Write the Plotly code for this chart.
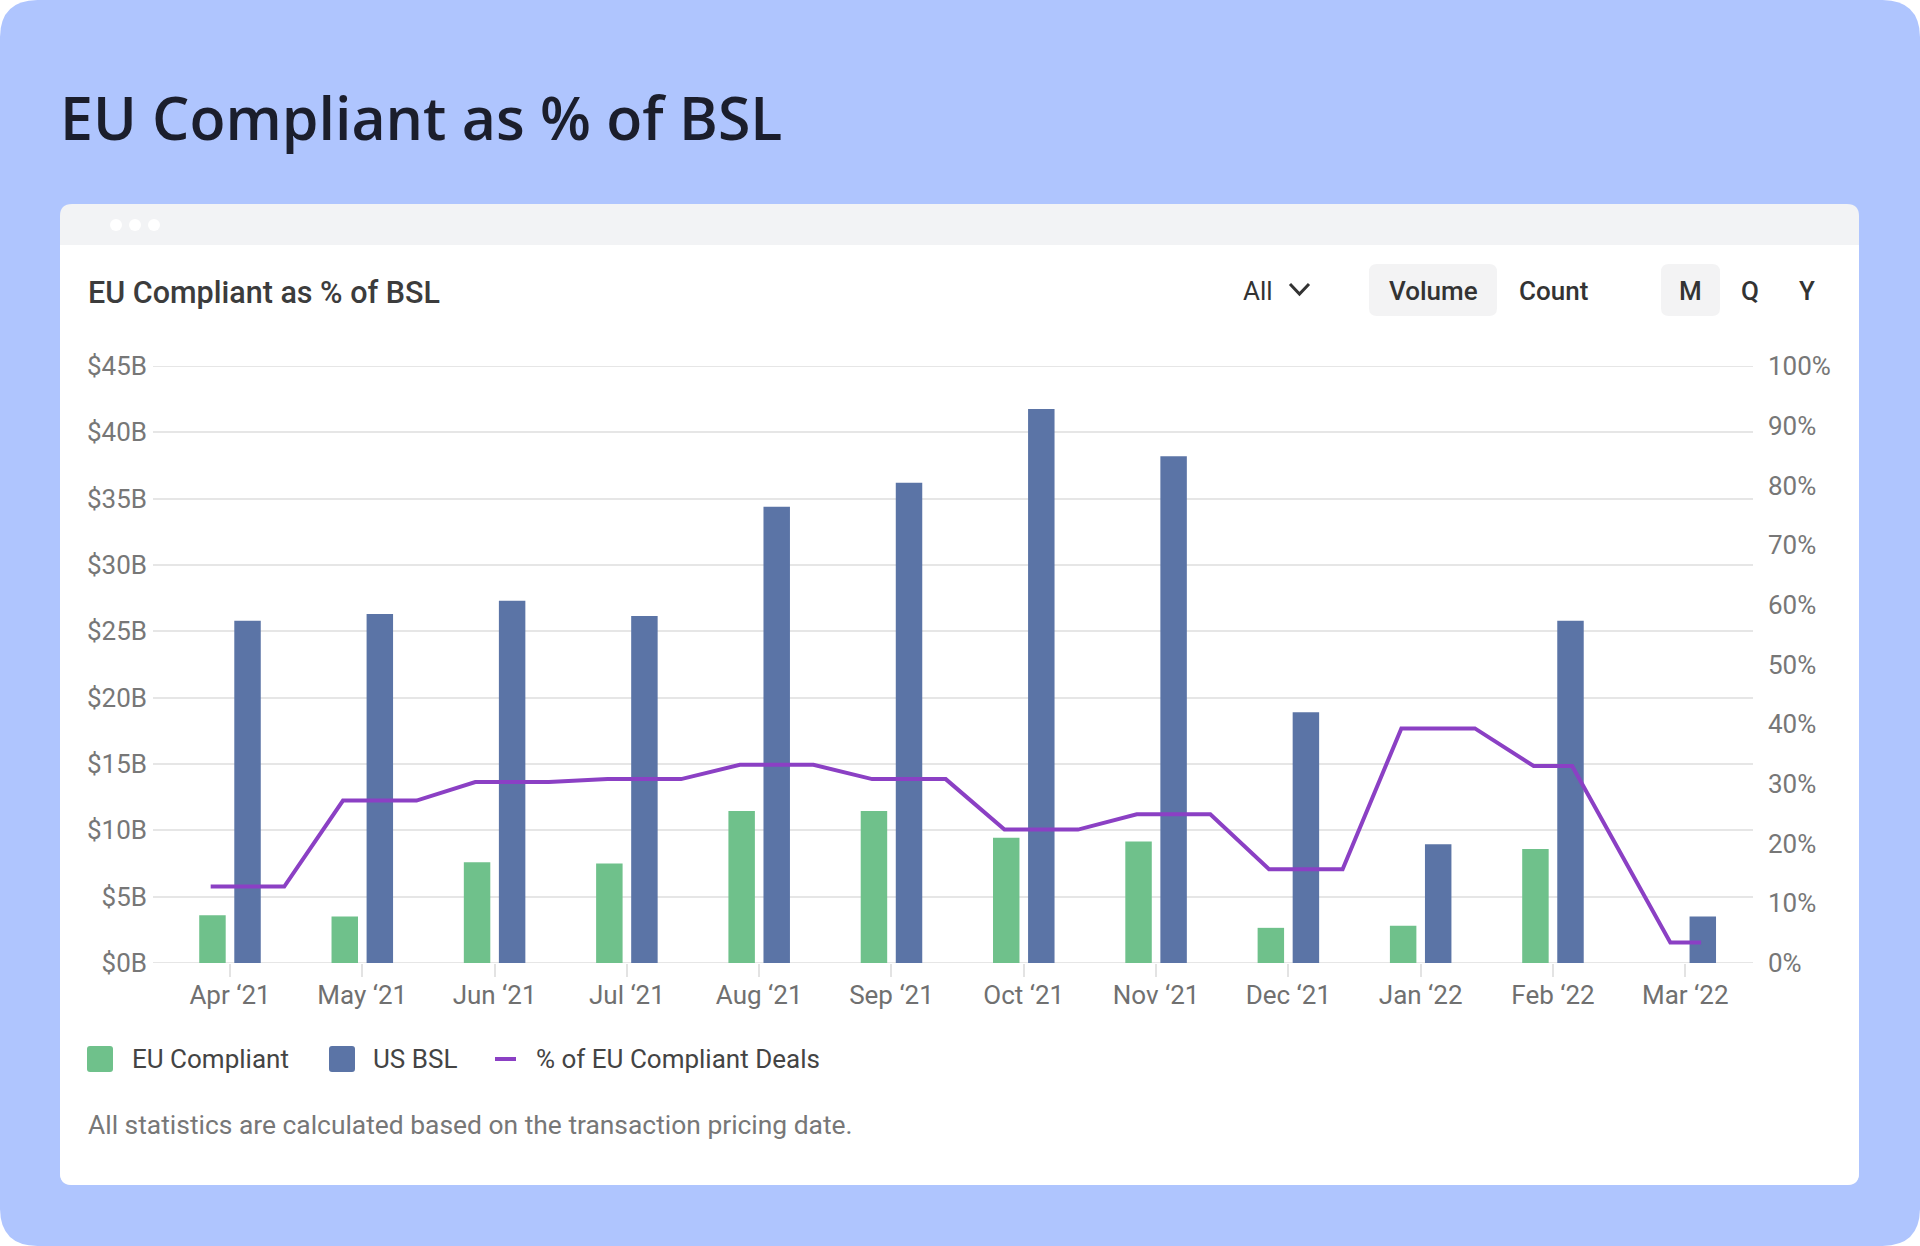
import plotly.graph_objects as go

# data
months = ["Apr \u201821", "May \u201821", "Jun \u201821", "Jul \u201821", "Aug \u201821", "Sep \u201821",
          "Oct \u201821", "Nov \u201821", "Dec \u201821", "Jan \u201822", "Feb \u201822", "Mar \u201822"]
eu_compliant = [3.6, 3.5, 7.6, 7.5, 11.45, 11.45, 9.45, 9.15, 2.65, 2.8, 8.6, None]   # $B
us_bsl = [25.8, 26.3, 27.3, 26.15, 34.4, 36.2, 41.75, 38.2, 18.9, 8.95, 25.8, 3.5]     # $B
pct_eu = [12.8, 27.2, 30.3, 30.8, 33.2, 30.8, 22.35, 24.9, 15.7, 39.3, 33.0, 3.45]     # %

y_ticks = list(range(0, 50, 5))
y_labels = [f"${v}B" for v in y_ticks]
pct_ticks = list(range(0, 110, 10))
pct_labels = [f"{v}%" for v in pct_ticks]

# colours
BG_BLUE = "#AFC5FE"
GREEN = "#6FC18B"
NAVY = "#5B74A6"
PURPLE = "#8B40C4"
GRID = "#E6E6E6"

# page geometry (pixels)
W, H = 1920, 1246
L, R, T, B = 153, 1753, 366, 963
pw, ph = R - L, B - T


def fx(x):
    return (x - L) / pw


def fy(y):
    return (B - y) / ph


def rrect(x0, y0, x1, y1, rt, rb=None):
    # rounded rectangle path in paper coords, built from pixel corners
    rb = rt if rb is None else rb
    pts = [
        ("M", x0 + rt, y0), ("L", x1 - rt, y0), ("Q", x1, y0, x1, y0 + rt),
        ("L", x1, y1 - rb), ("Q", x1, y1, x1 - rb, y1), ("L", x0 + rb, y1),
        ("Q", x0, y1, x0, y1 - rb), ("L", x0, y0 + rt), ("Q", x0, y0, x0 + rt, y0),
    ]
    out = ""
    for p in pts:
        cmd, vals = p[0], p[1:]
        coords = []
        for i in range(0, len(vals), 2):
            coords.append(f"{fx(vals[i]):.5f},{fy(vals[i + 1]):.5f}")
        out += cmd + " ".join(coords) + " "
    return out + "Z"


def box(path, color, layer="below"):
    return dict(type="path", path=path, xref="paper", yref="paper",
                fillcolor=color, line=dict(width=0), layer=layer)


# flat segment of the % line around each month (category units)
seg = [(-0.146, 0.41)] * 10 + [(-0.146, 0.145), (-0.113, 0.12)]
line_x, line_y = [], []
for i, v in enumerate(pct_eu):
    line_x += [i + seg[i][0], i + seg[i][1]]
    line_y += [v, v]

fig = go.Figure()

fig.add_trace(go.Bar(x=months, y=eu_compliant, name="EU Compliant",
                     marker=dict(color=GREEN, line=dict(width=0))))
fig.add_trace(go.Bar(x=months, y=us_bsl, name="US BSL",
                     marker=dict(color=NAVY, line=dict(width=0))))
fig.add_trace(go.Scatter(x=line_x, y=line_y, name="% of EU Compliant Deals",
                         mode="lines", line=dict(color=PURPLE, width=4),
                         xaxis="x2", yaxis="y2"))

xr = [-0.582, 11.512]

shapes = [
    # blue page background and white card
    box(rrect(0, 0, W, H, 38), BG_BLUE),
    box(rrect(60, 204, 1859, 1185, 12), "#F2F3F5"),
    box(rrect(60, 245, 1859, 1185, 0, 12), "white"),
    # toggle backgrounds
    box(rrect(1369, 264, 1497, 316, 8), "#F3F3F4"),
    box(rrect(1661, 264, 1720, 316, 8), "#F3F3F4"),
    # chevron
    dict(type="path", xref="paper", yref="paper",
         path=f"M{fx(1290):.5f},{fy(284):.5f} L{fx(1299.5):.5f},{fy(294):.5f} L{fx(1309):.5f},{fy(284):.5f}",
         line=dict(color="#333333", width=3)),
]
# plotly skips gridlines on the range edges, so draw those two by hand
for v in (y_ticks[0], y_ticks[-1]):
    shapes.append(dict(type="line", xref="paper", yref="y", x0=0, x1=1, y0=v, y1=v,
                       line=dict(color=GRID, width=2), layer="below"))
for cx in [116, 135, 154]:
    shapes.append(dict(type="circle", xref="paper", yref="paper",
                       x0=fx(cx - 6), x1=fx(cx + 6), y0=fy(231), y1=fy(219),
                       fillcolor="white", line=dict(width=0), layer="below"))

# legend drawn by hand
shapes.append(box(rrect(87, 1046, 113, 1072, 3), GREEN, "above"))
shapes.append(box(rrect(329, 1046, 355, 1072, 3), NAVY, "above"))
shapes.append(dict(type="line", xref="paper", yref="paper",
                   x0=fx(495), x1=fx(516), y0=fy(1059), y1=fy(1059),
                   line=dict(color=PURPLE, width=4)))

roboto = "Roboto, Arial, sans-serif"


def label(text, x, y, size, color, xanchor="left", weight=400, family=roboto):
    return dict(text=text, x=fx(x), y=fy(y), xref="paper", yref="paper", showarrow=False,
                xanchor=xanchor, yanchor="middle",
                font=dict(family=family, size=size, color=color, weight=weight))


annotations = [
    label("EU Compliant as % of BSL", 58, 117, 59, "#1B1E2C", weight=600, family="Open Sans, sans-serif"),
    label("EU Compliant as % of BSL", 86, 292, 30.5, "#3C3C3C", weight=500),
    label("All", 1241, 291, 26, "#333333"),
    label("Volume", 1433, 291, 26, "#333333", xanchor="center", weight=500),
    label("Count", 1553, 291, 26, "#333333", xanchor="center", weight=500),
    label("M", 1690, 291, 26, "#333333", xanchor="center", weight=500),
    label("Q", 1750, 291, 26, "#333333", xanchor="center", weight=500),
    label("Y", 1807, 291, 26, "#333333", xanchor="center", weight=500),
    label("EU Compliant", 130, 1059, 26, "#444444"),
    label("US BSL", 371, 1059, 26, "#444444"),
    label("% of EU Compliant Deals", 534, 1059, 26, "#444444"),
    label("All statistics are calculated based on the transaction pricing date.", 86, 1125, 26.4, "#777777"),
]

fig.update_layout(
    width=W, height=H,
    margin=dict(l=L, r=W - R, t=T, b=H - B, pad=0),
    paper_bgcolor="white",
    plot_bgcolor="rgba(0,0,0,0)",
    showlegend=False,
    barmode="group",
    bargap=0.47,
    bargroupgap=0.245,
    font=dict(family=roboto, size=26, color="#777777"),
    xaxis=dict(type="category", range=xr, showgrid=False, zeroline=False, showline=False,
               ticks="outside", ticklen=13, tickwidth=2, tickcolor="#E3E3E3",
               tickfont=dict(size=26, color="#707070"), ticklabelstandoff=-4),
    xaxis2=dict(overlaying="x", range=xr, visible=False),
    yaxis=dict(range=[0, 45], tickmode="array", tickvals=y_ticks, ticktext=y_labels,
               showgrid=True, gridcolor=GRID, gridwidth=2, zeroline=False, showline=False,
               ticks="", tickfont=dict(size=26, color="#777777"), ticklabelstandoff=5),
    yaxis2=dict(overlaying="y", side="right", range=[0, 100], tickmode="array",
                tickvals=pct_ticks, ticktext=pct_labels,
                showgrid=False, zeroline=False, showline=False, ticks="",
                tickfont=dict(size=26, color="#777777"), ticklabelstandoff=14),
    shapes=shapes,
    annotations=annotations,
)

fig.write_html("out.html", config={"displayModeBar": False},
               post_script="document.body.style.margin='0';")
